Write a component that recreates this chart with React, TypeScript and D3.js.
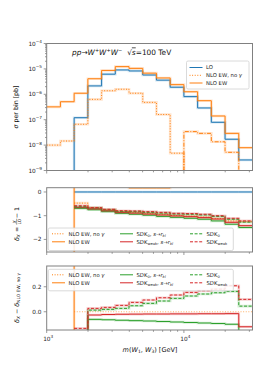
import * as d3 from 'd3'
import React from 'react'

// bin edges of m(W1,W3) [GeV], 10 bins per decade
const binEdges = [1000, 1259, 1585, 1995, 2512, 3162, 3981, 5012, 6310, 7943, 10000, 12589, 15849, 19953, 25119, 31623]

// top panel: sigma per bin [pb]
const sigmaLO = [0, 0, 1.2e-7, 2.14e-6, 6.2e-6, 9.1e-6, 8.3e-6, 5.75e-6, 3.6e-6, 1.9e-6, 8.1e-7, 2.9e-7, 7.9e-8, 1.7e-8, 2.6e-9]
const sigmaNLO = [3.2e-7, 5.1e-7, 1.1e-6, 4.1e-6, 8.7e-6, 1.23e-5, 1.05e-5, 6.8e-6, 4.4e-6, 2.4e-6, 1.26e-6, 5.6e-7, 1.4e-7, 2.9e-8, 7.9e-9]
const sigmaNoGamma = [1.0e-8, 1.45e-8, 6.6e-8, 6.3e-7, 1.38e-6, 1.58e-6, 1.1e-6, 4.8e-7, 1.6e-7, 4.8e-9, -3.4e-8, -2.9e-8, -1.35e-8, -5.2e-9, -5e-10]

// middle panel: delta_X = X/LO - 1
const relLO = [null, null, 0, 0, 0, 0, 0, 0, 0, 0, 0, 0, 0, 0, 0]
const relNLO = [null, -50, 30, 0.45, 0.41, 0.35, 0.17, 0.17, 0.17, 0.3, 0.3, 0.3, 0.5, 0.6, 0.6]
const relNoGamma = [null, null, -0.47, -0.68, -0.76, -0.83, -0.86, -0.9, -0.94, -0.99, -1.02, -1.06, -1.12, -1.22, -1.25]
const relSdk0Skl = [null, null, -0.69, -0.75, -0.83, -0.9, -0.94, -0.98, -1.03, -1.07, -1.11, -1.15, -1.22, -1.36, -1.5]
const relSdkWSkl = [null, null, -0.65, -0.71, -0.79, -0.86, -0.89, -0.93, -0.97, -1.01, -1.04, -1.08, -1.14, -1.28, -1.42]
const relSdk0 = [null, null, -0.62, -0.67, -0.75, -0.82, -0.83, -0.86, -0.89, -0.93, -0.94, -0.97, -1.03, -1.15, -1.27]
const relSdkW = [null, null, -0.58, -0.66, -0.73, -0.79, -0.8, -0.83, -0.86, -0.9, -0.91, -0.94, -1.0, -1.11, -1.22]

// bottom panel: delta_X - delta_(NLO EW, no gamma)
const diffNoGamma = [null, null, 0, 0, 0, 0, 0, 0, 0, 0, 0, 0, 0, 0, 0]
const diffNLO = [null, -50, 30, 1.2, 1.17, 1.1, 1.0, 1.0, 1.0, 1.1, 1.1, 1.2, 1.3, 1.4, 1.4]
const diffSdk0Skl = [null, null, -0.25, -0.061, -0.064, -0.068, -0.071, -0.074, -0.078, -0.082, -0.086, -0.09, -0.094, -0.1, -0.25]
const diffSdkWSkl = [null, null, -0.2, -0.026, -0.022, -0.02, -0.019, -0.018, -0.018, -0.017, -0.017, -0.016, -0.016, -0.015, -0.12]
const diffSdk0 = [null, null, -0.2, 0.013, 0.019, 0.027, 0.048, 0.067, 0.086, 0.107, 0.126, 0.142, 0.152, 0.163, 0.045]
const diffSdkW = [null, null, -0.133, 0.027, 0.035, 0.051, 0.075, 0.094, 0.112, 0.134, 0.155, 0.168, 0.181, 0.208, 0.099]

const logTicks1 = [1e-9, 1e-8, 1e-7, 1e-6, 1e-5, 1e-4]
const ticks2 = [0, -1, -2]
const ticks3 = [0, 0.2]

const BLUE = '#1f77b4'
const ORANGE = '#ff7f0e'
const GREEN = '#2ca02c'
const RED = '#d62728'
const FRAME = '#808080'
const FONT = 'DejaVu Sans'

const DOT = '1,1.6'
const DASH = '3,1.6'
const DASHDOT = '4,1.5,1,1.5'

const x = d3.scaleLog().domain([1000, 31623]).range([46.7, 252.5])
const y1 = d3.scaleLog().domain([1e-9, 1e-4]).range([170.5, 43.5])
const y2 = d3.scaleLinear().domain([-2.53, 0.18]).range([252, 187.7])
const y3 = d3.scaleLinear().domain([-0.146, 0.366]).range([330, 266])

type Vals = (number | null)[]

function stepD(vals: Vals, y: (v: number) => number, log = false) {
  let d = ''
  let open = false
  vals.forEach((v, i) => {
    if (v == null) {
      open = false
      return
    }
    const yy = y(log ? Math.max(v, 1e-14) : v)
    const x0 = x(binEdges[i])
    const x1 = x(binEdges[i + 1])
    d += open ? `V${yy}H${x1}` : `M${x0},${yy}H${x1}`
    open = true
  })
  return d
}

const Step = ({ vals, y, color, dash, log, band = true }: any) => {
  const d = stepD(vals, y, log)
  return (
    <g>
      {band && <path d={d} fill="none" stroke={color} strokeWidth={2.6} strokeOpacity={0.2} />}
      <path d={d} fill="none" stroke={color} strokeWidth={1} strokeDasharray={dash} />
    </g>
  )
}

const xMinor = d3.range(2, 10).map((k) => k * 1000).concat([20000, 30000])
const xMajor = [1000, 10000]

const XTicks = ({ yb }: { yb: number }) => (
  <g stroke={FRAME} strokeWidth={0.8}>
    {xMajor.map((t) => (
      <line key={t} x1={x(t)} x2={x(t)} y1={yb} y2={yb + 3} />
    ))}
    {xMinor.map((t) => (
      <line key={t} x1={x(t)} x2={x(t)} y1={yb} y2={yb + 1.8} />
    ))}
  </g>
)

const Clip = ({ top, bottom, id }: any) => (
  <defs>
    <clipPath id={id}>
      <rect x={46.7} y={top} width={252.5 - 46.7} height={bottom - top} />
    </clipPath>
  </defs>
)

const Sup = ({ base, sup, x: tx, y: ty, anchor = 'end' }: any) => (
  <text x={tx} y={ty} textAnchor={anchor} fontSize={5.8} fill="#222">
    {base}
    <tspan fontSize={4.2} dy={-2.6}>
      {sup}
    </tspan>
  </text>
)

type Item = { label: React.ReactNode; color: string; dash?: string }

const Legend = ({ x0, y0, w, h, rows, cols }: any) => (
  <g>
    <rect x={x0} y={y0} width={w} height={h} rx={1.5} fill="white" fillOpacity={0.85} stroke="#d0d0d0" strokeWidth={0.8} />
    {cols.map((col: { hx: number; items: Item[] }, ci: number) =>
      col.items.map((it, ri) => (
        <g key={ci + '-' + ri}>
          <line x1={col.hx} x2={col.hx + 13} y1={rows[ri]} y2={rows[ri]} stroke={it.color} strokeWidth={1} strokeDasharray={it.dash} />
          <text x={col.hx + 16.5} y={rows[ri] + 1.9} fontSize={5.3} fill="#222">
            {it.label}
          </text>
        </g>
      ))
    )}
  </g>
)

const Sub = ({ children }: any) => (
  <tspan fontSize={3.7} dy={1.2}>
    {children}
  </tspan>
)

const lblNoG = (
  <>
    NLO EW, no <tspan fontStyle="italic">γ</tspan>
  </>
)
const lblSdk0Skl = (
  <>
    SDK<Sub>0</Sub>
    <tspan dy={-1.2}>, </tspan>
    <tspan fontStyle="italic">s</tspan>→<tspan fontStyle="italic">r</tspan>
    <tspan fontSize={3.7} dy={1.2} fontStyle="italic">
      kl
    </tspan>
  </>
)
const lblSdkWSkl = (
  <>
    SDK<Sub>weak</Sub>
    <tspan dy={-1.2}>, </tspan>
    <tspan fontStyle="italic">s</tspan>→<tspan fontStyle="italic">r</tspan>
    <tspan fontSize={3.7} dy={1.2} fontStyle="italic">
      kl
    </tspan>
  </>
)
const lblSdk0 = (
  <>
    SDK<Sub>0</Sub>
  </>
)
const lblSdkW = (
  <>
    SDK<Sub>weak</Sub>
  </>
)

const sdkCols = [
  {
    hx: 52,
    items: [
      { label: lblNoG, color: ORANGE, dash: DOT },
      { label: 'NLO EW', color: ORANGE },
    ],
  },
  {
    hx: 120,
    items: [
      { label: lblSdk0Skl, color: GREEN },
      { label: lblSdkWSkl, color: RED },
    ],
  },
  {
    hx: 190,
    items: [
      { label: lblSdk0, color: GREEN, dash: DASH },
      { label: lblSdkW, color: RED, dash: DASH },
    ],
  },
]

export default function App() {
  const absNeg = sigmaNoGamma.map((v) => (v < 0 ? -v : 0))
  const pos = sigmaNoGamma.map((v) => (v > 0 ? v : 0))
  const y1Minor: number[] = []
  for (let e = -9; e < -4; e++) for (let k = 2; k < 10; k++) y1Minor.push(k * Math.pow(10, e))

  return (
    <svg width={266} height={372} style={{ position: 'absolute', left: 0, top: 0 }} fontFamily={FONT}>
      <rect width={266} height={372} fill="white" />
      <Clip id="c1" top={43.5} bottom={170.5} />
      <Clip id="c2" top={187.7} bottom={252} />
      <Clip id="c3" top={266} bottom={330} />

      {/* panel 1 */}
      <g clipPath="url(#c1)">
        <Step vals={sigmaLO} y={y1} log color={BLUE} />
        <Step vals={pos} y={y1} log color={ORANGE} dash={DOT} />
        <Step vals={absNeg} y={y1} log color={ORANGE} dash={DASHDOT} />
        <Step vals={sigmaNLO} y={y1} log color={ORANGE} />
      </g>
      <rect x={46.7} y={43.5} width={205.8} height={127} fill="none" stroke={FRAME} strokeWidth={1} />
      <XTicks yb={170.5} />
      <g stroke={FRAME} strokeWidth={0.8}>
        {logTicks1.map((t) => (
          <line key={t} x1={46.7} x2={43.7} y1={y1(t)} y2={y1(t)} />
        ))}
        {y1Minor.map((t) => (
          <line key={t} x1={46.7} x2={45} y1={y1(t)} y2={y1(t)} />
        ))}
      </g>
      {logTicks1.map((t) => (
        <Sup key={t} base="10" sup={'−' + Math.round(-Math.log10(t))} x={42} y={y1(t) + 2} />
      ))}
      <text x={72} y={54.5} fontSize={7.4} fill="#111">
        <tspan fontStyle="italic">pp</tspan>→<tspan fontStyle="italic">W</tspan>
        <tspan fontSize={5} dy={-2.8}>+</tspan>
        <tspan fontStyle="italic" dy={2.8}>W</tspan>
        <tspan fontSize={5} dy={-2.8}>+</tspan>
        <tspan fontStyle="italic" dy={2.8}>W</tspan>
        <tspan fontSize={5} dy={-2.8}>−</tspan>
        <tspan dy={2.8} dx={5}>√</tspan>
        <tspan fontStyle="italic" textDecoration="overline">s</tspan>
        <tspan>=100 TeV</tspan>
      </text>
      <Legend
        x0={186.5}
        y0={61}
        w={62.5}
        h={28}
        rows={[67.5, 75.3, 83]}
        cols={[
          {
            hx: 189.5,
            items: [
              { label: 'LO', color: BLUE },
              { label: lblNoG, color: ORANGE, dash: DOT },
              { label: 'NLO EW', color: ORANGE },
            ],
          },
        ]}
      />
      <text transform="translate(17.5,107) rotate(-90)" textAnchor="middle" fontSize={6.3} fill="#111">
        <tspan fontStyle="italic">σ</tspan> per bin [pb]
      </text>

      {/* panel 2 */}
      <g clipPath="url(#c2)">
        <Step vals={relLO} y={y2} color={BLUE} />
        <Step vals={relNoGamma} y={y2} color={ORANGE} dash={DOT} />
        <Step vals={relNLO} y={y2} color={ORANGE} />
        <Step vals={relSdk0Skl} y={y2} color={GREEN} />
        <Step vals={relSdkWSkl} y={y2} color={RED} />
        <Step vals={relSdk0} y={y2} color={GREEN} dash={DASH} />
        <Step vals={relSdkW} y={y2} color={RED} dash={DASH} />
      </g>
      <Legend x0={48.3} y0={228} w={185} h={22.5} rows={[233.8, 241.8]} cols={sdkCols} />
      <rect x={46.7} y={187.7} width={205.8} height={64.3} fill="none" stroke={FRAME} strokeWidth={1} />
      <XTicks yb={252} />
      <g stroke={FRAME} strokeWidth={0.8}>
        {ticks2.map((t) => (
          <line key={t} x1={46.7} x2={43.7} y1={y2(t)} y2={y2(t)} />
        ))}
      </g>
      {ticks2.map((t) => (
        <text key={t} x={41.5} y={y2(t) + 2} textAnchor="end" fontSize={5.8} fill="#222">
          {t === 0 ? '0' : '−' + Math.abs(t)}
        </text>
      ))}
      <g transform="translate(19,241) rotate(-90)" fill="#111">
        <text x={0} y={0} fontSize={6.3}>
          <tspan fontStyle="italic">δ</tspan>
          <tspan fontSize={4.4} dy={1.3} fontStyle="italic">X</tspan>
          <tspan dy={-1.3}> = </tspan>
        </text>
        <text x={19.3} y={-3.3} fontSize={4.3} textAnchor="middle" fontStyle="italic">X</text>
        <line x1={16.3} x2={22.3} y1={-2.3} y2={-2.3} stroke="#111" strokeWidth={0.4} />
        <text x={19.3} y={1.9} fontSize={4.3} textAnchor="middle">LO</text>
        <text x={22.8} y={0} fontSize={6.3}> − 1</text>
      </g>

      {/* panel 3 */}
      <g clipPath="url(#c3)">
        <Step vals={diffNoGamma} y={y3} color="#ffb066" dash={DOT} band={false} />
        <Step vals={diffNLO} y={y3} color={ORANGE} />
        <Step vals={diffSdk0Skl} y={y3} color={GREEN} />
        <Step vals={diffSdkWSkl} y={y3} color={RED} />
        <Step vals={diffSdk0} y={y3} color={GREEN} dash={DASH} />
        <Step vals={diffSdkW} y={y3} color={RED} dash={DASH} />
      </g>
      <Legend x0={48.3} y0={269.3} w={185} h={21.5} rows={[274.8, 282.8]} cols={sdkCols} />
      <rect x={46.7} y={266} width={205.8} height={64} fill="none" stroke={FRAME} strokeWidth={1} />
      <XTicks yb={330} />
      <g stroke={FRAME} strokeWidth={0.8}>
        {ticks3.map((t) => (
          <line key={t} x1={46.7} x2={43.7} y1={y3(t)} y2={y3(t)} />
        ))}
      </g>
      {ticks3.map((t) => (
        <text key={t} x={41.5} y={y3(t) + 2} textAnchor="end" fontSize={5.8} fill="#222">
          {t.toFixed(1)}
        </text>
      ))}
      <text transform="translate(19,298) rotate(-90)" textAnchor="middle" fontSize={6.3} fill="#111">
        <tspan fontStyle="italic">δ</tspan>
        <tspan fontSize={4.4} dy={1.3} fontStyle="italic">X</tspan>
        <tspan dy={-1.3}> − </tspan>
        <tspan fontStyle="italic">δ</tspan>
        <tspan fontSize={4.4} dy={1.3}>NLO EW, no </tspan>
        <tspan fontSize={4.4} fontStyle="italic">γ</tspan>
      </text>

      {/* x axis */}
      {xMajor.map((t) => (
        <Sup key={t} base="10" sup={String(Math.round(Math.log10(t)))} x={x(t) + 1.5} y={340.5} anchor="middle" />
      ))}
      <text x={150} y={352} textAnchor="middle" fontSize={6.5} fill="#111">
        <tspan fontStyle="italic">m</tspan>(<tspan fontStyle="italic">W</tspan>
        <tspan fontSize={4.5} dy={1.3}>1</tspan>
        <tspan dy={-1.3}>, </tspan>
        <tspan fontStyle="italic">W</tspan>
        <tspan fontSize={4.5} dy={1.3}>3</tspan>
        <tspan dy={-1.3}>) [GeV]</tspan>
      </text>
    </svg>
  )
}
